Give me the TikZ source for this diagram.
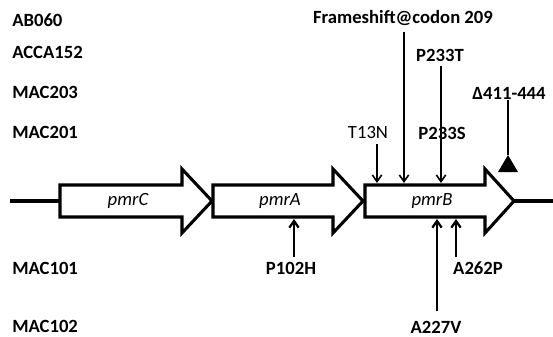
\documentclass[tikz,border=0pt]{standalone}
\usepackage{fontspec}
\setmainfont{Carlito}
\usetikzlibrary{arrows.meta}
\begin{document}
\begin{tikzpicture}[x=0.75pt,y=-0.75pt,
  lbl/.style={font=\bfseries\fontsize{14}{16}\selectfont, inner sep=0pt},
  lblr/.style={font=\fontsize{14}{16}\selectfont, inner sep=0pt},
  gene/.style={draw, line width=2.3pt, fill=white, line join=miter},
  genelbl/.style={font=\itshape\fontsize{14}{16}\selectfont, inner sep=0pt},
  mut/.style={line width=1.2pt, -{Straight Barb[length=5pt,width=7pt]}},
  mutb/.style={line width=1.7pt, -{Straight Barb[length=5pt,width=7pt]}},
  backbone/.style={line width=2.4pt}]
\useasboundingbox (0,0) rectangle (553,336);
% strain labels
\node[lbl, anchor=west] (s1) at (12,20) {AB060};
\node[lbl, anchor=west] (s2) at (12,52) {ACCA152};
\node[lbl, anchor=west] (s3) at (12,92) {MAC203};
\node[lbl, anchor=west] (s4) at (12,132) {MAC201};
\node[lbl, anchor=west] (s5) at (12,268) {MAC101};
\node[lbl, anchor=west] (s6) at (12,326) {MAC102};
% backbone
\coordinate (bL) at (10,201);
\coordinate (bR) at (553,201);
\draw[backbone] (bL) -- (bR);
% genes
\draw[gene] (60,185) -- (182,185) -- (182,169) -- (212,201) -- (182,233) -- (182,217) -- (60,217) -- cycle;
\draw[gene] (213,185) -- (333,185) -- (333,169) -- (363,201) -- (333,233) -- (333,217) -- (213,217) -- cycle;
\draw[gene] (365,185) -- (485,185) -- (485,169) -- (514,201) -- (485,233) -- (485,217) -- (365,217) -- cycle;
\node[genelbl] (gC) at (128,201) {pmrC};
\node[genelbl] (gA) at (280,201) {pmrA};
\node[genelbl] (gB) at (432,201) {pmrB};
% mutation labels
\node[lbl] (fs) at (403,18) {Frameshift@codon 209};
\node[lbl] (p233t) at (440,55) {P233T};
\node[lbl] (del) at (509,93) {Δ411-444};
\node[lblr] (t13n) at (368,133) {T13N};
\node[lbl] (p233s) at (442,133) {P233S};
\node[lbl] (p102h) at (291,268) {P102H};
\node[lbl] (a262p) at (478,268) {A262P};
\node[lbl] (a227v) at (436,327) {A227V};
% connector points
\coordinate (t13nS) at (377,144); \coordinate (t13nE) at (377,183);
\coordinate (fsS) at (404,32);    \coordinate (fsE) at (404,183);
\coordinate (p233tS) at (441,66); \coordinate (p233tE) at (441,183);
\coordinate (delS) at (508,100);  \coordinate (delE) at (508,155);
\coordinate (p102hS) at (294,257); \coordinate (p102hE) at (294,219);
\coordinate (a262pS) at (456,257); \coordinate (a262pE) at (456,219);
\coordinate (a227vS) at (437,311); \coordinate (a227vE) at (437,219);
\draw[mut] (t13nS) -- (t13nE);
\draw[mut] (fsS) -- (fsE);
\draw[mut] (p233tS) -- (p233tE);
\draw[line width=1.7pt] (delS) -- (delE);
\fill (delE) -- (518,172) -- (498,172) -- cycle;
\draw[mutb] (p102hS) -- (p102hE);
\draw[mutb] (a262pS) -- (a262pE);
\draw[mutb] (a227vS) -- (a227vE);
\end{tikzpicture}
\end{document}
